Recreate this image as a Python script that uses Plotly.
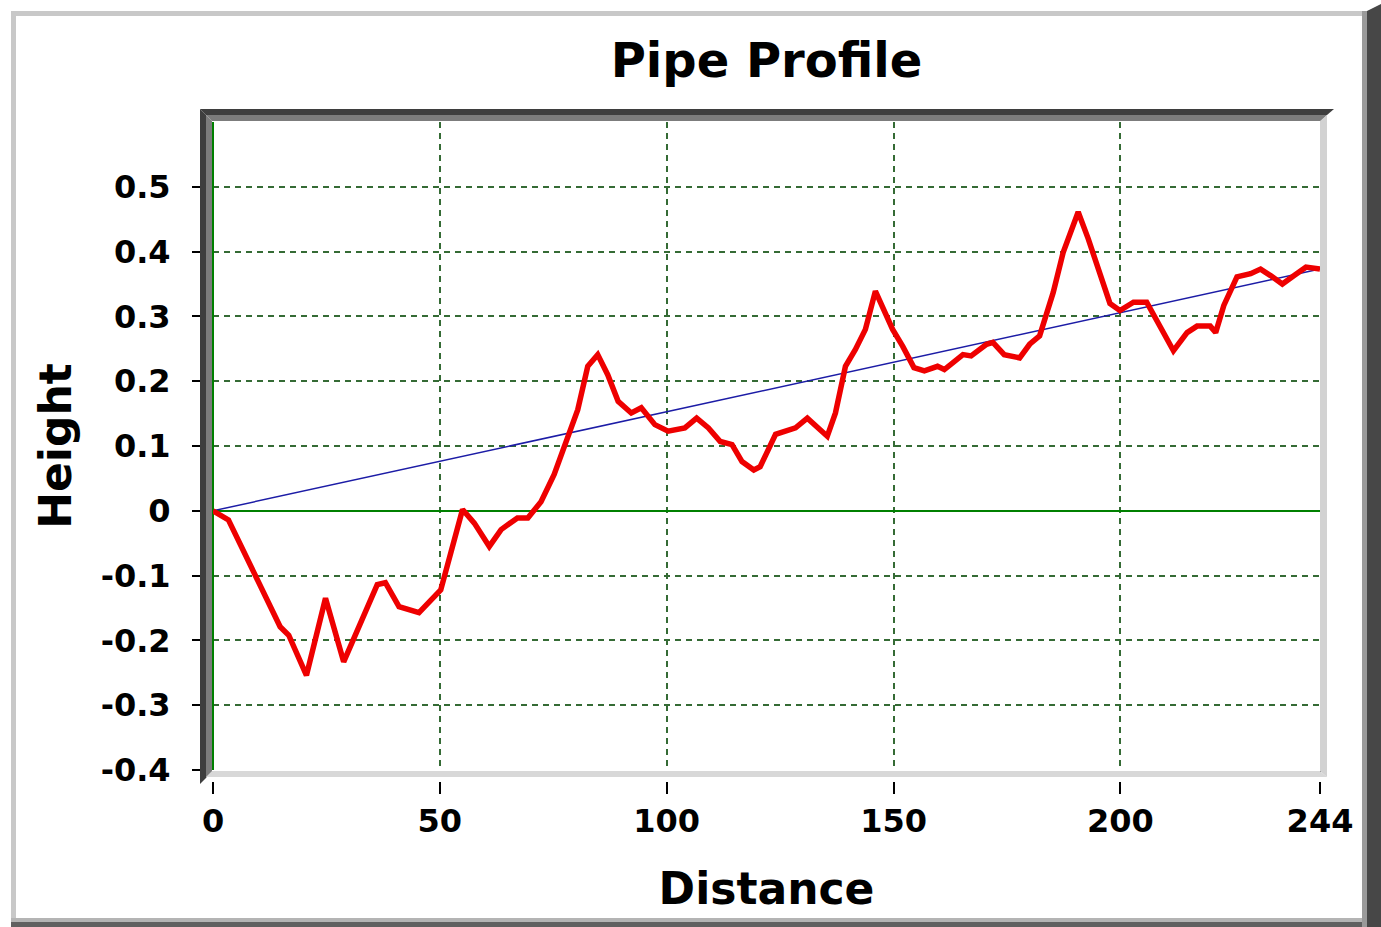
import plotly.graph_objects as go

# ---- data ----
distance = [0, 3.4, 9, 14.8, 16.7, 20.6, 24.8, 28.8, 36.2, 38, 41, 45.4, 50.2, 55, 57.6, 60.9,
            63.5, 67.1, 69.4, 72.3, 75.2, 78.2, 80.4, 82.6, 84.8, 87, 89.3, 92.2, 94.4, 97.4,
            100.3, 104, 106.6, 109.2, 111.8, 114.4, 116.6, 119.2, 120.6, 124, 126.2, 128.4,
            131, 135.4, 137.2, 139.4, 141.6, 143.8, 146, 149.8, 152, 154.5, 156.8, 159.7,
            161.2, 165.3, 167.1, 170.5, 171.9, 174.4, 177.8, 180, 182.2, 185.2, 187.4, 190.7,
            192.9, 195.5, 197.7, 199.9, 202.9, 205.8, 208.1, 211.7, 214.7, 216.9, 219.8, 221,
            222.8, 225.7, 228.7, 230.9, 233.1, 235.7, 238.3, 240.9, 244]
height = [0, -0.014, -0.095, -0.179, -0.192, -0.254, -0.135, -0.233, -0.114, -0.111, -0.148,
          -0.157, -0.122, 0.002, -0.019, -0.055, -0.029, -0.011, -0.011, 0.014, 0.056, 0.115,
          0.156, 0.223, 0.241, 0.210, 0.169, 0.151, 0.159, 0.133, 0.123, 0.128, 0.143, 0.128,
          0.107, 0.102, 0.076, 0.063, 0.068, 0.118, 0.123, 0.128, 0.143, 0.115, 0.151, 0.223,
          0.249, 0.280, 0.339, 0.280, 0.254, 0.221, 0.216, 0.223, 0.218, 0.241, 0.239, 0.257,
          0.260, 0.241, 0.236, 0.257, 0.270, 0.337, 0.399, 0.461, 0.420, 0.363, 0.320, 0.309,
          0.322, 0.322, 0.291, 0.247, 0.275, 0.285, 0.285, 0.275, 0.317, 0.361, 0.366, 0.373,
          0.363, 0.350, 0.363, 0.376, 0.373]

x_ticks = [0, 50, 100, 150, 200, 244]
x_ticktext = ["0", "50", "100", "150", "200", "244"]
y_ticks = [-0.4, -0.3, -0.2, -0.1, 0, 0.1, 0.2, 0.3, 0.4, 0.5]
y_ticktext = ["-0.4", "-0.3", "-0.2", "-0.1", "0", "0.1", "0.2", "0.3", "0.4", "0.5"]

# straight reference line from first to last point
trend_x = [distance[0], distance[-1]]
trend_y = [height[0], height[-1]]

# ---- layout geometry (pixels) ----
W, H = 1381, 927
L, R, T, B = 213, 1320, 122, 770
PW, PH = R - L, B - T


def px(x):
    return (x - L) / PW


def py(y):
    return (B - y) / PH


def rect(x0, y0, x1, y1, color):
    return dict(type="rect", xref="paper", yref="paper", layer="above",
                x0=px(x0), x1=px(x1), y0=py(y1), y1=py(y0),
                fillcolor=color, line=dict(width=0))


def poly(points, color):
    path = "M " + " L ".join(f"{px(a)},{py(b)}" for a, b in points) + " Z"
    return dict(type="path", xref="paper", yref="paper", layer="above",
                path=path, fillcolor=color, line=dict(width=0))


fig = go.Figure()
fig.add_trace(go.Scatter(x=trend_x, y=trend_y, mode="lines",
                         line=dict(color="#1c1ca6", width=1.5), hoverinfo="skip",
                         showlegend=False))
fig.add_trace(go.Scatter(x=distance, y=height, mode="lines",
                         line=dict(color="#ee0000", width=5.5), showlegend=False))

shapes = [
    # gap between plot frame and x ticks
    rect(195, 777, 1340, 782, "#ffffff"),
    # outer frame (light top/left, dark right/bottom)
    rect(11, 11, 1366, 16, "#c8c8c8"),
    rect(11, 11, 16, 921, "#c8c8c8"),
    rect(11, 918, 1366, 922, "#b4b4b4"),
    rect(11, 922, 1381, 927, "#606060"),
    rect(1362, 11, 1367, 927, "#9a9a9a"),
    poly([(1367, 11), (1381, 4), (1381, 927), (1367, 927)], "#474747"),
    # plot frame: dark top/left, light right/bottom
    poly([(200, 109), (1334, 109), (1327, 115), (206, 115)], "#3e3e3e"),
    poly([(206, 115), (1327, 115), (1321, 121), (212, 121)], "#7c7c7c"),
    poly([(200, 109), (206, 115), (206, 778), (200, 784)], "#3e3e3e"),
    poly([(206, 115), (212, 121), (212, 772), (206, 778)], "#7c7c7c"),
    poly([(1320, 121), (1327, 115), (1327, 777), (1320, 771)], "#d2d2d2"),
    poly([(212, 771), (1320, 771), (1327, 777), (206, 777)], "#d8d8d8"),
]

grid_color = "#356b35"
font_family = "DejaVu Sans"

fig.update_layout(
    width=W, height=H,
    margin=dict(l=L, r=W - R, t=T, b=H - B, pad=0),
    paper_bgcolor="#ffffff", plot_bgcolor="#ffffff",
    title=dict(text="Pipe Profile", x=(L + R) / 2 / W, xanchor="center",
               y=1 - 60 / H, yanchor="middle", yref="container",
               font=dict(family=font_family, size=48, color="#000000", weight="bold")),
    shapes=shapes,
    xaxis=dict(range=[0, 244], tickvals=x_ticks, ticktext=x_ticktext,
               showgrid=True, gridcolor=grid_color, gridwidth=2, griddash="6px,5px",
               zeroline=True, zerolinecolor="#008000", zerolinewidth=2,
               showline=False, ticks="outside", ticklen=23, tickwidth=2, tickcolor="#000000",
               tickfont=dict(family=font_family, size=32, color="#000000", weight="bold"),
               title=dict(text="Distance", standoff=33,
                          font=dict(family=font_family, size=44, color="#000000", weight="bold"))),
    yaxis=dict(range=[-0.4, 0.6], tickvals=y_ticks, ticktext=y_ticktext,
               showgrid=True, gridcolor=grid_color, gridwidth=2, griddash="6px,5px",
               zeroline=True, zerolinecolor="#008000", zerolinewidth=1.5,
               showline=False, ticks="outside", ticklen=20, tickwidth=2, tickcolor="#000000",
               ticklabelstandoff=15,
               tickfont=dict(family=font_family, size=32, color="#000000", weight="bold"),
               title=dict(text="Height", standoff=15,
                          font=dict(family=font_family, size=44, color="#000000", weight="bold"))),
)

fig.write_html("out.html", config={"displayModeBar": False},
               post_script="document.body.style.margin='0';")
